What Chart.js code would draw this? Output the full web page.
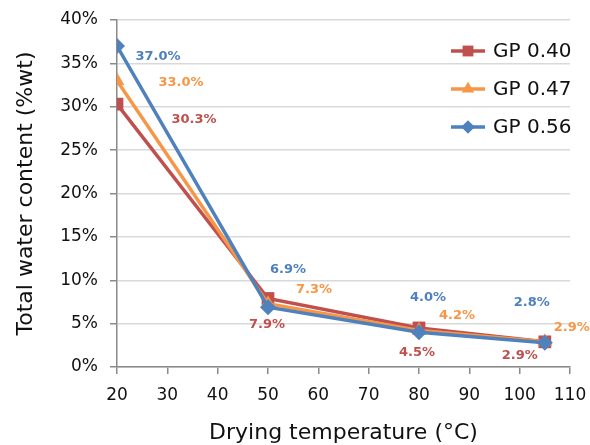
<!DOCTYPE html>
<html><head><meta charset="utf-8">
<script src="https://cdn.jsdelivr.net/npm/chart.js@4/dist/chart.umd.min.js"></script>
<style>html,body{margin:0;padding:0;background:#fff}#wrap{width:590px;height:445px}</style>
</head><body><div id="wrap"><canvas id="c" width="590" height="445"></canvas></div>
<script>
// ---- data ----
const temperatures = [20, 50, 80, 105];
const seriesNames = ['GP 0.40', 'GP 0.47', 'GP 0.56'];
const gp040 = [30.3, 7.9, 4.5, 2.9];
const gp047 = [33.0, 7.3, 4.2, 2.9];
const gp056 = [37.0, 6.9, 4.0, 2.8];
const yTicks = [0, 5, 10, 15, 20, 25, 30, 35, 40];
const xTicks = [20, 30, 40, 50, 60, 70, 80, 90, 100, 110];

// ---- styles ----
const colors = ['#C0504D', '#F79646', '#4F81BD'];
const shapes = ['rect', 'triangle', 'rectRot'];
const radii = [9, 8.5, 8];
const labelOffsets = [
  [[77, 15], [-1, 26], [-2, 25], [-25, 14]],
  [[64, 2], [46, -14], [38, -15], [27, -14]],
  [[41, 11], [20, -38], [9, -35], [-13, -40]]
];
const FONT = "'DejaVu Sans', sans-serif";

const values = [gp040, gp047, gp056];
const datasets = values.map((vals, i) => ({
  label: seriesNames[i],
  data: temperatures.map((t, j) => ({x: t, y: vals[j]})),
  borderColor: colors[i],
  backgroundColor: colors[i],
  borderWidth: 3.5,
  pointStyle: shapes[i],
  pointRadius: radii[i],
  pointHoverRadius: radii[i],
  pointBorderWidth: 0,
  order: 2 - i,
  tension: 0
}));

const labelPlugin = {
  id: 'dataLabels',
  afterDatasetsDraw(chart) {
    const ctx = chart.ctx;
    ctx.save();
    ctx.font = "bold 13px " + FONT;
    ctx.textAlign = 'center';
    ctx.textBaseline = 'middle';
    values.forEach((vals, i) => {
      const meta = chart.getDatasetMeta(i);
      meta.data.forEach((pt, j) => {
        ctx.fillStyle = colors[i];
        ctx.fillText(vals[j].toFixed(1) + '%', pt.x + labelOffsets[i][j][0], pt.y + labelOffsets[i][j][1]);
      });
    });
    ctx.restore();
  }
};

function drawMarker(ctx, style, x, y, r) {
  ctx.beginPath();
  if (style === 'rect') {
    const s = Math.SQRT1_2 * r;
    ctx.rect(x - s, y - s, 2 * s, 2 * s);
  } else if (style === 'triangle') {
    for (let k = 0; k < 3; k++) {
      const a = k * 2 * Math.PI / 3;
      const px = x + Math.sin(a) * r, py = y - Math.cos(a) * r;
      k === 0 ? ctx.moveTo(px, py) : ctx.lineTo(px, py);
    }
  } else {
    ctx.moveTo(x, y - r); ctx.lineTo(x + r, y); ctx.lineTo(x, y + r); ctx.lineTo(x - r, y);
  }
  ctx.closePath();
  ctx.fill();
}

const legendPlugin = {
  id: 'customLegend',
  afterDraw(chart) {
    const ctx = chart.ctx;
    ctx.save();
    const x0 = 451, x1 = 485, tx = 493, ys = [51, 89, 127];
    seriesNames.forEach((name, i) => {
      const y = ys[i];
      ctx.strokeStyle = colors[i];
      ctx.lineWidth = 3.5;
      ctx.beginPath(); ctx.moveTo(x0, y); ctx.lineTo(x1, y); ctx.stroke();
      ctx.fillStyle = colors[i];
      drawMarker(ctx, shapes[i], (x0 + x1) / 2, y, radii[i] * 0.85);
      ctx.fillStyle = '#111';
      ctx.font = "20px " + FONT;
      ctx.textAlign = 'left';
      ctx.textBaseline = 'middle';
      ctx.fillText(name, tx, y + 1);
    });
    ctx.restore();
  }
};

new Chart(document.getElementById('c'), {
  type: 'line',
  data: {datasets},
  options: {
    responsive: false,
    animation: false,
    events: [],
    layout: {padding: {top: 20, right: 20, left: 0, bottom: 0}},
    plugins: {legend: {display: false}, tooltip: {enabled: false}},
    scales: {
      x: {
        type: 'linear', min: 20, max: 110,
        afterBuildTicks(scale) { scale.ticks = xTicks.map(v => ({value: v})); },
        afterFit(scale) { scale.height = 78; scale.paddingLeft = 0; scale.paddingRight = 0; },
        grid: {drawOnChartArea: false, drawTicks: true, tickLength: 7, tickColor: '#8a8a8a', lineWidth: 1.5},
        border: {color: '#8a8a8a', width: 1.5},
        ticks: {color: '#111', font: {family: FONT, size: 17}, padding: 11, maxRotation: 0},
        title: {display: true, text: 'Drying temperature (°C)', color: '#111', font: {family: FONT, size: 22, lineHeight: 1.1}, padding: {top: 0, bottom: 0}}
      },
      y: {
        min: 0, max: 40,
        afterBuildTicks(scale) { scale.ticks = yTicks.map(v => ({value: v})); },
        afterFit(scale) { scale.width = 117; scale.paddingTop = 0; scale.paddingBottom = 0; },
        grid: {color: '#d9d9d9', lineWidth: 1.5, drawTicks: true, tickLength: 7, tickColor: '#8a8a8a'},
        border: {color: '#8a8a8a', width: 1.5},
        ticks: {color: '#111', font: {family: FONT, size: 17}, padding: 12, callback: v => v + '%'},
        title: {display: true, text: 'Total water content (%wt)', color: '#111', font: {family: FONT, size: 22, lineHeight: 1.1}, padding: {top: 14, bottom: 0}}
      }
    }
  },
  plugins: [labelPlugin, legendPlugin]
});
</script>
</body></html>
